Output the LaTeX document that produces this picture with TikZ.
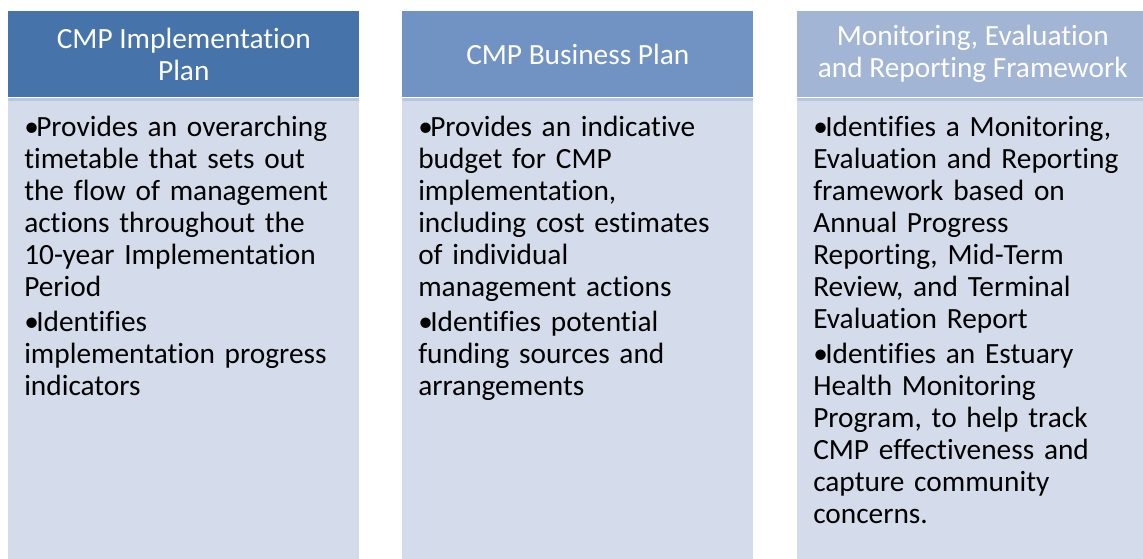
\documentclass[tikz,border=0pt]{standalone}
\usepackage{fontspec}
\setmainfont{Carlito}[Ligatures=NoCommon]
\usetikzlibrary{positioning}

\definecolor{hdrdark}{RGB}{70,115,170}
\definecolor{hdrmid}{RGB}{113,147,195}
\definecolor{hdrlight}{RGB}{162,181,212}
\definecolor{panelfill}{RGB}{212,219,234}
\definecolor{panelrim}{RGB}{184,198,222}

% one bullet item with hanging indent
\newcommand{\bulitem}[1]{\par\hangindent=9pt\hangafter=1\noindent\makebox[9pt][l]{•}#1}
\newcommand{\itemgap}{\par\vspace{2.5pt}}

\begin{document}
\begin{tikzpicture}[x=0.75pt, y=-0.75pt,
  hdr/.style={anchor=north west, minimum width=263.25pt, minimum height=64.5pt,
              inner sep=0pt, text=white, align=center,
              font=\fontsize{22}{24}\selectfont},
  panel/.style={fill=panelfill, minimum width=263.25pt, minimum height=351pt,
                inner sep=0pt,
                path picture={\fill[panelrim] (path picture bounding box.north west)
                  rectangle ([yshift=-2.5pt]path picture bounding box.north east);}},
  bodytext/.style={anchor=north west, text width=255pt, inner sep=0pt,
                   align=left, font=\fontsize{22}{24}\selectfont}
]
\useasboundingbox (0,0) rectangle (1143,559);
\clip (0,0) rectangle (1143,559);

% column headers
\node[hdr, fill=hdrdark] (implhdr) at (8,11) {CMP Implementation\\Plan};
\node[hdr, fill=hdrmid] (bizhdr) at (402,11) {CMP Business Plan};
\node[hdr, fill=hdrlight] (merhdr) at (797,11) {Monitoring, Evaluation\\and Reporting Framework};

% panels under the headers
\node[panel, below=0pt of implhdr] (implpanel) {};
\node[panel, below=0pt of bizhdr] (bizpanel) {};
\node[panel, below=0pt of merhdr] (merpanel) {};

% bullet lists
\node[bodytext, below right=5pt and 12pt of implpanel.north west] (impltext) {%
  \bulitem{Provides an overarching\\timetable that sets out\\the flow of management\\actions throughout the\\10-year Implementation\\Period}%
  \itemgap
  \bulitem{Identifies\\implementation progress\\indicators}};

\node[bodytext, below right=5pt and 12pt of bizpanel.north west] (biztext) {%
  \bulitem{Provides an indicative\\budget for CMP\\implementation,\\including cost estimates\\of individual\\management actions}%
  \itemgap
  \bulitem{Identifies potential\\funding sources and\\arrangements}};

\node[bodytext, below right=5pt and 12pt of merpanel.north west] (mertext) {%
  \bulitem{Identifies a Monitoring,\\Evaluation and Reporting\\framework based on\\Annual Progress\\Reporting, Mid-Term\\Review, and Terminal\\Evaluation Report}%
  \itemgap
  \bulitem{Identifies an Estuary\\Health Monitoring\\Program, to help track\\CMP effectiveness and\\capture community\\concerns.}};
\end{tikzpicture}
\end{document}
